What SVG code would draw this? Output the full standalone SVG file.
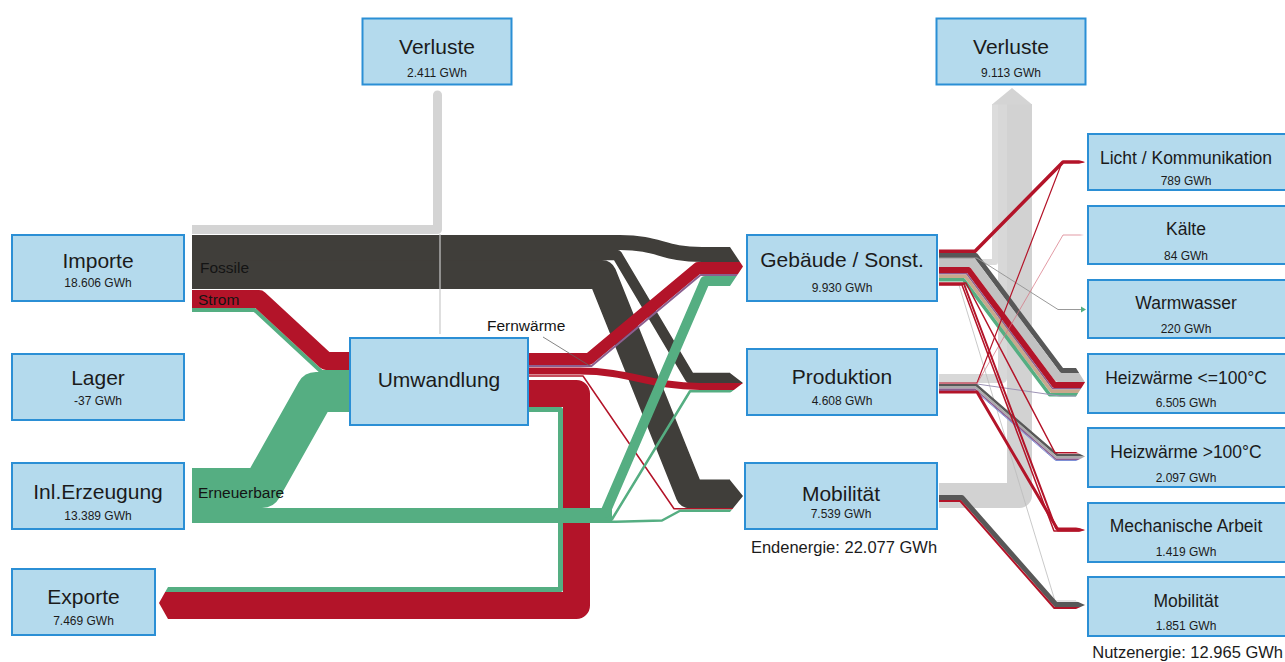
<svg xmlns="http://www.w3.org/2000/svg" width="1285" height="662" viewBox="0 0 1285 662">
<defs>
<style>
.n rect{fill:#b4daed;stroke:#2b8fd5;stroke-width:2}
.n text{font-family:"Liberation Sans",Arial,sans-serif;text-anchor:middle;fill:#1b1b1b}
.tl{font-size:21px}
.tr{font-size:17.5px}
.v{font-size:12px;fill:#333}
.f{fill:none;stroke-linejoin:round}
.lbl{font-family:"Liberation Sans",Arial,sans-serif;font-size:15.5px;fill:#141414}
.sum{font-family:"Liberation Sans",Arial,sans-serif;font-size:16.5px;fill:#1b1b1b}
.dk{stroke:#403e3a}
.rd{stroke:#b31429}
.gn{stroke:#55ae82}
.gy{stroke:#d4d4d4}
.dg{stroke:#585858}
.pu{stroke:#8b5f8f}
</style>
<clipPath id="cl"><polygon points="168,0 730,0 730,247 743,266.5 730,286 730,373 743,383 730,393 730,480 743,496 730,512 730,662 168,662 168,619 159,603 168,587"/></clipPath>
<clipPath id="cr"><polygon points="939,0 1076,0 1076,159 1085,162 1076,165 1076,233 1084,235 1076,237 1076,307 1082,309.5 1076,312 1076,368 1085,382.25 1076,396.5 1076,452 1085,456.5 1076,461 1076,527 1085,530 1076,533 1076,601 1085,605 1076,609 1076,662 939,662"/></clipPath>
</defs>
<rect width="1285" height="662" fill="#ffffff"/>
<g id="connectors">
<g clip-path="url(#cl)">
<path class="f gy" d="M192,229.5 H437.5 V95" stroke-width="9"/>
<circle cx="437.5" cy="95" r="4.5" fill="#d4d4d4"/>
<path class="f dk" d="M192,274.5 H602 L690,494 H745" stroke-width="29"/>
<path class="f dk" d="M192,255 H617 L690,378 H745" stroke-width="10.4"/>
<path class="f dk" d="M192,242.5 H620 C660,242.5 662,254.5 702,254.5 H745" stroke-width="15.2"/>
<path class="f" d="M440,234 V334" stroke="#c9c9c9" stroke-width="1.2"/>
<path class="f gn" d="M192,310 H254.7 L321.7,372 H349" stroke-width="4"/>
<path class="f rd" d="M192,299 H259 L326,361 H349" stroke-width="18"/>
<path class="f gn" d="M192,488 H262 L316,392 H349" stroke-width="40"/>
<path class="f rd" d="M528,393.5 H576.5 V605.5 H150" stroke-width="27"/>
<path class="f gn" d="M528,409.5 H560.5 V589.5 H150" stroke-width="5" stroke-linejoin="miter"/>
<path class="f rd" d="M528,359 H589 L698,268 H745" stroke-width="12"/>
<path class="f pu" d="M528,366 H591.5 L700.5,275 H745" stroke-width="2"/>
<path class="f rd" d="M528,371 H580 C630,371 650,386.5 700,386.5 H745" stroke-width="7"/>
<path class="f rd" d="M528,376 H583 L674,508.75 H745" stroke-width="1.5"/>
<path class="f gn" d="M192,515.5 H612" stroke-width="15"/>
<path class="f gn" d="M598,513 H605 L705,281 H745" stroke-width="10"/>
<path class="f gn" d="M598,519.25 H612 L690,391.25 H745" stroke-width="2.5"/>
<path class="f gn" d="M598,521.75 H616 L662,520.5 L680,510.75 H745" stroke-width="2.5"/>
<path class="f" d="M543,337 L590,366" stroke="#666" stroke-width="0.8"/>
</g>
<g clip-path="url(#cr)">
<path class="f" d="M939,495.5 H1019.5 V104" stroke="#d2d2d2" stroke-width="25"/>
<path class="f" d="M939,378.5 H1002.5 V104" stroke="#d8d8d8" stroke-width="9"/>
<path class="f" d="M975,262 H995 V104" stroke="#dcdcdc" stroke-width="6"/>
<polygon points="992,104.5 1012,88 1032,104.5" fill="#d4d4d4"/>
<path class="f dg" d="M939,255.5 H975.75 L1061.75,370.5 H1090" stroke-width="5"/>
<path class="f" d="M939,262.5 H972.25 L1058.25,377.5 H1090" stroke="#c2c2c2" stroke-width="9"/>
<path class="f rd" d="M939,270 H968.5 L1054.5,385 H1090" stroke-width="6"/>
<path class="f pu" d="M939,273.75 H966.6 L1052.6,388.75 H1090" stroke-width="1.5"/>
<path class="f" d="M939,276.25 H965.4 L1051.4,391.25 H1090" stroke="#c8a88c" stroke-width="3.5"/>
<path class="f gn" d="M939,279.75 H963.6 L1049.6,394.75 H1090" stroke-width="3.5"/>
<path class="f" d="M939,258 H977 L1058,309.5 H1090" stroke="#999" stroke-width="1"/>
<path class="f" d="M939,285 H959 L1055,601 H1090" stroke="#bbb" stroke-width="0.8"/>
<path class="f" d="M939,384 H977 L1060,396 H1090" stroke="#9d93b5" stroke-width="1"/>
<path class="f dg" d="M939,385.25 H976.5 L1057.5,455.25 H1090" stroke-width="2.5"/>
<path class="f" d="M939,387.5 H975.7 L1056.7,457.5 H1090" stroke="#aaa" stroke-width="2"/>
<path class="f pu" d="M939,389.25 H975 L1056,459.25 H1090" stroke-width="1.5"/>
<path class="f" d="M939,390.5 H974.6 L1055.6,460.5 H1090" stroke="#7e8fd6" stroke-width="1"/>
<path class="f dg" d="M939,497.5 H961.9 L1055.9,604.5 H1090" stroke-width="5"/>
<path class="f rd" d="M939,501 H960.3 L1054.3,608 H1090" stroke-width="2"/>
<path class="f rd" d="M939,251.25 H975 L1063,162 H1090" stroke-width="3.5"/>
<path class="f rd" d="M939,383 H977 L1062,162.5 H1090" stroke-width="1.2"/>
<path class="f" d="M939,383.5 H977 L1063,235 H1090" stroke="#d5707e" stroke-width="0.7"/>
<path class="f rd" d="M939,283 H966 L1055,452.75 H1090" stroke-width="1.5"/>
<path class="f rd" d="M939,284 H964 L1056,528.5 H1090" stroke-width="2"/>
<path class="f rd" d="M939,285 H962 L1054,531 H1090" stroke-width="1.5"/>
<path class="f rd" d="M939,392 H977 L1058,530 H1090" stroke-width="3"/>
</g>
<polygon points="1081,306.5 1086,309.5 1081,312.5" fill="#55ae82"/>
</g>
<text class="lbl" x="200" y="273">Fossile</text>
<text class="lbl" x="198" y="305">Strom</text>
<text class="lbl" x="198" y="498">Erneuerbare</text>
<text class="lbl" x="487" y="331">Fernwärme</text>
<g id="verluste-links" class="n"><rect x="362.5" y="18.5" width="149" height="66"/><text class="tl" x="437" y="54">Verluste</text><text class="v" x="437" y="77">2.411 GWh</text></g>
<g id="verluste-rechts" class="n"><rect x="936.5" y="18.5" width="149" height="66"/><text class="tl" x="1011" y="54">Verluste</text><text class="v" x="1011" y="77">9.113 GWh</text></g>
<g id="importe" class="n"><rect x="12" y="235" width="172" height="66"/><text class="tl" x="98" y="268">Importe</text><text class="v" x="98" y="287">18.606 GWh</text></g>
<g id="lager" class="n"><rect x="12" y="354" width="172" height="66"/><text class="tl" x="98" y="385">Lager</text><text class="v" x="98" y="405">-37 GWh</text></g>
<g id="inl-erzeugung" class="n"><rect x="12" y="463" width="172" height="66"/><text class="tl" x="98" y="499">Inl.Erzeugung</text><text class="v" x="98" y="520">13.389 GWh</text></g>
<g id="exporte" class="n"><rect x="12" y="569" width="143" height="66"/><text class="tl" x="83.5" y="604">Exporte</text><text class="v" x="83.5" y="625">7.469 GWh</text></g>
<g id="umwandlung" class="n"><rect x="350" y="338" width="178" height="87"/><text class="tl" x="439" y="387">Umwandlung</text></g>
<g id="gebaeude" class="n"><rect x="747" y="235" width="190" height="66"/><text class="tl" x="842" y="267">Gebäude / Sonst.</text><text class="v" x="842" y="292">9.930 GWh</text></g>
<g id="produktion" class="n"><rect x="747" y="349" width="190" height="66"/><text class="tl" x="842" y="384">Produktion</text><text class="v" x="842" y="405">4.608 GWh</text></g>
<g id="mobilitaet-end" class="n"><rect x="745" y="463" width="192" height="66"/><text class="tl" x="841" y="501">Mobilität</text><text class="v" x="841" y="518">7.539 GWh</text></g>
<text class="sum" x="844" y="553" text-anchor="middle">Endenergie: 22.077 GWh</text>
<g id="licht" class="n"><rect x="1088" y="134" width="200" height="56"/><text class="tr" x="1186" y="164">Licht / Kommunikation</text><text class="v" x="1186" y="185">789 GWh</text></g>
<g id="kaelte" class="n"><rect x="1088" y="206" width="200" height="58"/><text class="tr" x="1186" y="235">Kälte</text><text class="v" x="1186" y="260">84 GWh</text></g>
<g id="warmwasser" class="n"><rect x="1088" y="280" width="200" height="58"/><text class="tr" x="1186" y="309">Warmwasser</text><text class="v" x="1186" y="333">220 GWh</text></g>
<g id="heiz-niedrig" class="n"><rect x="1088" y="354" width="200" height="59"/><text class="tr" x="1186" y="384">Heizwärme &lt;=100°C</text><text class="v" x="1186" y="407">6.505 GWh</text></g>
<g id="heiz-hoch" class="n"><rect x="1088" y="428" width="200" height="59"/><text class="tr" x="1186" y="458">Heizwärme &gt;100°C</text><text class="v" x="1186" y="482">2.097 GWh</text></g>
<g id="mechanik" class="n"><rect x="1088" y="503" width="200" height="59"/><text class="tr" x="1186" y="532">Mechanische Arbeit</text><text class="v" x="1186" y="556">1.419 GWh</text></g>
<g id="mobilitaet-nutz" class="n"><rect x="1088" y="577" width="200" height="59"/><text class="tr" x="1186" y="607">Mobilität</text><text class="v" x="1186" y="630">1.851 GWh</text></g>
<text class="sum" x="1283" y="658" text-anchor="end" font-size="16">Nutzenergie: 12.965 GWh</text>
</svg>
